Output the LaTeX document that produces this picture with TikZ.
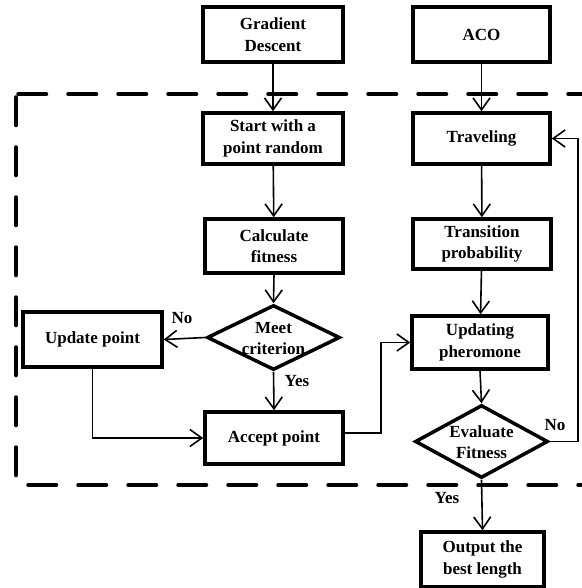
\documentclass[tikz,border=0pt]{standalone}
\usepackage{fontspec}
\setmainfont{Liberation Serif}
\usetikzlibrary{arrows.meta,shapes.geometric}
\begin{document}
\begin{tikzpicture}[x=1pt,y=-1pt,
  box/.style={draw,line width=3.5pt,minimum width=138pt,minimum height=52pt,inner sep=0pt,align=center,font=\fontsize{17}{21.5}\selectfont\bfseries},
  dia/.style={draw,line width=3.5pt,shape=diamond,inner sep=0pt,minimum width=133pt},
  dtext/.style={align=center,font=\fontsize{17}{21}\selectfont\bfseries,inner sep=0pt},
  lbl/.style={font=\fontsize{17}{20}\selectfont\bfseries,inner sep=0pt},
  arr/.style={line width=1.6pt,-{Straight Barb[length=12pt,width=17pt,line width=1.6pt]}},
  conn/.style={line width=1.6pt},
  dashframe/.style={line width=3.5pt,line cap=round,dash pattern=on 28.5pt off 21.5pt}]
\useasboundingbox (0,0) rectangle (581,588);
% dashed frame
\draw[dashframe] (18,94) -- (600,94);
\draw[dashframe] (16,97) -- (16,485) -- (600,485);
% nodes
\node[box,minimum width=140pt,minimum height=55pt] (gd) at (273,34.5) {Gradient\\Descent};
\node[box,minimum width=137pt,minimum height=55pt] (aco) at (481.5,34.5) {ACO};
\node[box,minimum width=140pt,minimum height=51pt] (start) at (273,138.5) {Start with a\\point random};
\node[box,minimum width=137pt,minimum height=51pt] (trav) at (481.5,138.5) {Traveling};
\node[box,minimum width=138pt,minimum height=54pt] (calc) at (274,246) {Calculate\\fitness};
\node[box,minimum width=138pt,minimum height=50pt] (trans) at (482,244) {Transition\\probability};
\node[dia,minimum height=65pt] (meet) at (273.5,337.5) {};
\node[dtext] (meettxt) at (273.5,339) {Meet\\criterion};
\node[box,minimum width=139pt,minimum height=55pt] (upd) at (92.5,339.5) {Update point};
\node[box,minimum width=136pt,minimum height=53pt] (uph) at (480,342.5) {Updating\\pheromone};
\node[box,minimum width=138pt,minimum height=52pt] (acc) at (274,438) {Accept point};
\node[dia,minimum height=73pt] (eval) at (481.5,441.5) {};
\node[dtext] (evaltxt) at (481.5,442.5) {Evaluate\\Fitness};
\node[box,minimum width=123pt,minimum height=55pt] (out) at (482.5,559.5) {Output the\\best length};
% labels
\node[lbl] (no1) at (182,318) {No};
\node[lbl] (yes1) at (297,381) {Yes};
\node[lbl] (no2) at (555,425) {No};
\node[lbl] (yes2) at (447,498) {Yes};
% connectors
\draw[arr] (gd) -- (start);
\draw[arr] (aco) -- (trav);
\draw[arr] (start) -- (calc);
\draw[arr] (calc.south) -- (meet.north);
\draw[arr] (meet.west) -- (upd.east);
\draw[arr] (meet.south) -- (acc.north);
\draw[arr] (upd.south) |- (acc.west);
\draw[arr] ([yshift=5pt]acc.east) -- ++(36,0) |- (uph.west);
\draw[arr] (trav) -- (trans);
\draw[arr] (trans) -- (uph);
\draw[arr] (uph.south) -- (eval.north);
\draw[arr] (eval.east) -- ++(28,0) |- (trav.east);
\draw[arr] (eval.south) -- (out.north);
\end{tikzpicture}
\end{document}
